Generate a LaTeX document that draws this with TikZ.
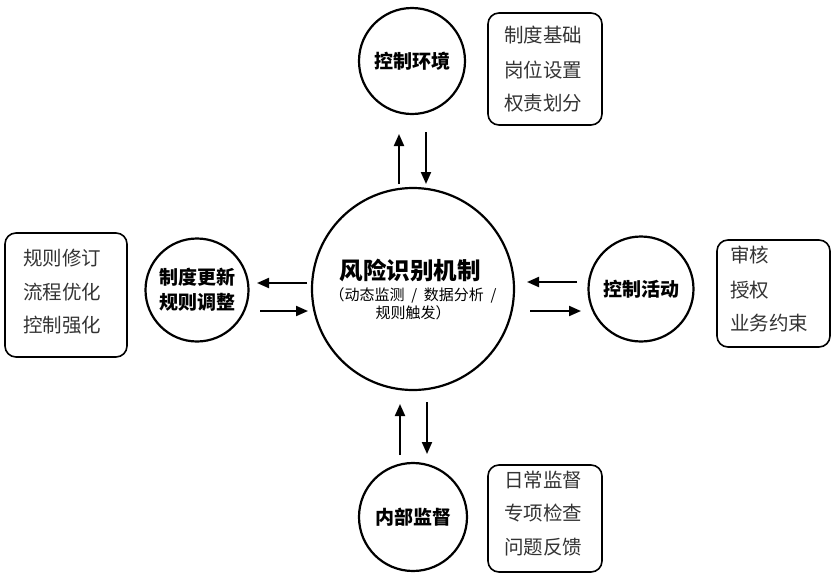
\documentclass[tikz,border=0pt]{standalone}
\usepackage{fontspec}
\setmainfont{Noto Sans CJK SC}
\usetikzlibrary{arrows.meta}
\begin{document}
\begin{tikzpicture}[x=1pt,y=-1pt,
  circ/.style={circle,draw,line width=2.2pt,inner sep=0pt,align=center,
    font=\fontsize{19}{25}\selectfont\bfseries},
  box/.style={draw,rounded corners=11pt,line width=1.6pt},
  item/.style={anchor=west,text=black!80,font=\fontsize{19.5}{22}\selectfont,inner sep=0pt},
  arr/.style={line width=2pt,-{Triangle[length=12pt,width=10pt]}}]
\useasboundingbox (0,0) rectangle (835,576);
% circles
\node[circ,minimum size=202pt] (ctr) at (413,289) {};
\node[circ,minimum size=106pt] (ce) at (412,61) {控制环境};
\node[circ,minimum size=103pt] (zd) at (197,290) {制度更新\\规则调整};
\node[circ,minimum size=105pt] (ca) at (641,289) {控制活动};
\node[circ,minimum size=108pt] (nb) at (413,517) {内部监督};
% centre text
\node[font=\fontsize{23.5}{26}\selectfont\bfseries,inner sep=0pt] (title) at (410,270) {风险识别机制};
\node[font=\fontsize{15}{18.5}\selectfont,inner sep=0pt,align=center] (sub) at (413,304)
  {（动态监测 \ / \ 数据分析 \ /\\规则触发）};
% boxes
\node[box,minimum width=114pt,minimum height=112pt] (b1) at (545,69) {};
\node[box,minimum width=122pt,minimum height=124pt] (b2) at (66,295) {};
\node[box,minimum width=113pt,minimum height=107pt] (b3) at (773.5,293.5) {};
\node[box,minimum width=114pt,minimum height=107pt] (b4) at (545,518.5) {};
\node[item] (b1a) at (504,35) {制度基础};
\node[item] (b1b) at (504,70) {岗位设置};
\node[item] (b1c) at (504,103) {权责划分};
\node[item] (b2a) at (23,258) {规则修订};
\node[item] (b2b) at (23,292) {流程优化};
\node[item] (b2c) at (23,325) {控制强化};
\node[item] (b3a) at (730,255) {审核};
\node[item] (b3b) at (730,290) {授权};
\node[item] (b3c) at (730,323) {业务约束};
\node[item] (b4a) at (504,480) {日常监督};
\node[item] (b4b) at (504,513) {专项检查};
\node[item] (b4c) at (504,547) {问题反馈};
% arrow end points
\coordinate (tu1) at (399,184); \coordinate (tu2) at (399,134);
\coordinate (td1) at (426,132); \coordinate (td2) at (426,184);
\coordinate (lu1) at (307,283); \coordinate (lu2) at (257,283);
\coordinate (ll1) at (260,311); \coordinate (ll2) at (308,311);
\coordinate (ru1) at (577,282); \coordinate (ru2) at (527,282);
\coordinate (rl1) at (530,311); \coordinate (rl2) at (581,311);
\coordinate (bu1) at (400,455); \coordinate (bu2) at (400,404);
\coordinate (bd1) at (427,402); \coordinate (bd2) at (427,454);
\draw[arr] (tu1) -- (tu2);
\draw[arr] (td1) -- (td2);
\draw[arr] (lu1) -- (lu2);
\draw[arr] (ll1) -- (ll2);
\draw[arr] (ru1) -- (ru2);
\draw[arr] (rl1) -- (rl2);
\draw[arr] (bu1) -- (bu2);
\draw[arr] (bd1) -- (bd2);
\end{tikzpicture}
\end{document}
